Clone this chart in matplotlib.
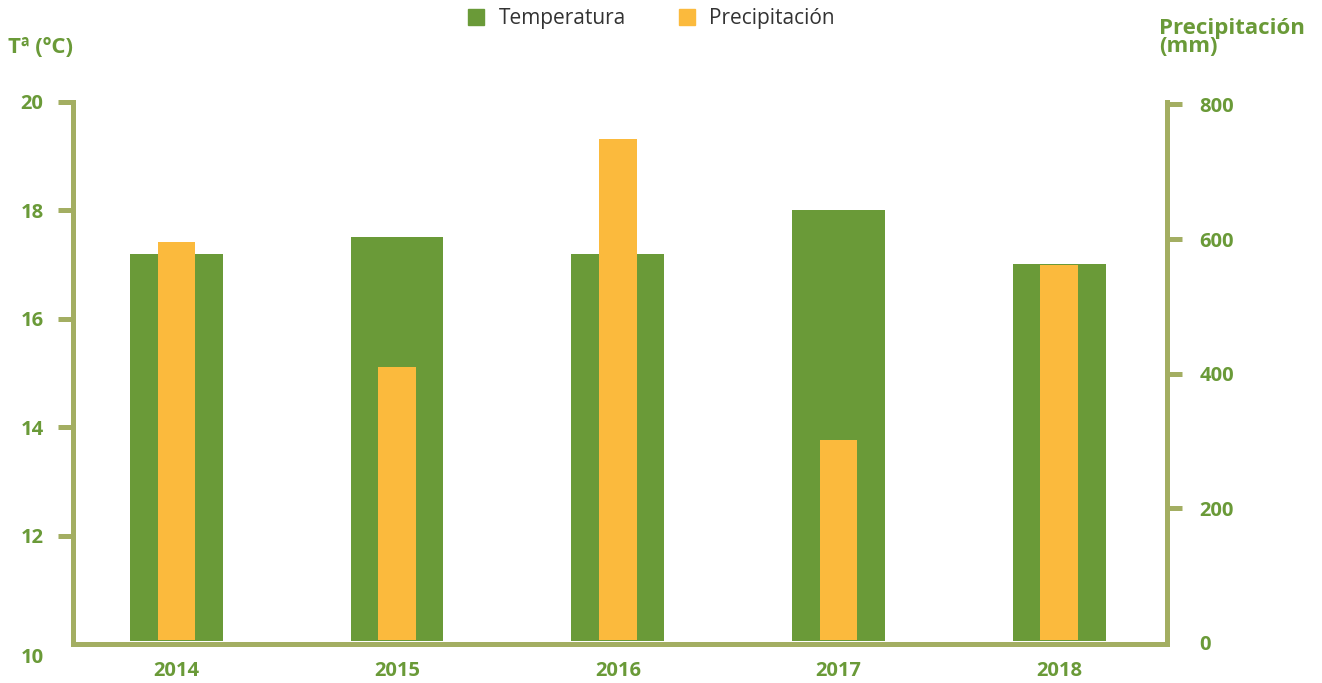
import matplotlib

matplotlib.use("Agg")
import matplotlib.pyplot as plt
import matplotlib.transforms as mtransforms
from matplotlib.lines import Line2D

years = ["2014", "2015", "2016", "2017", "2018"]
temperatura = [17.2, 17.5, 17.2, 18.0, 17.0]
precipitacion = [595, 410, 748, 302, 561]

temp_ticks = [10, 12, 14, 16, 18, 20]
prec_ticks = [0, 200, 400, 600, 800]

GREEN = "#6a9a38"
ORANGE = "#fbba3d"
SPINE = "#a3ae62"

plt.rcParams["font.family"] = ["Open Sans", "DejaVu Sans"]

fig = plt.figure(figsize=(13.22, 6.83), dpi=100)
ax = fig.add_axes([0.055, 0.0571, 0.828, 0.794])
ax2 = ax.twinx()

# bars start just above the bottom spine
t0, p0 = 10.06, 5
x = list(range(len(years)))
ax.bar(x, [t - t0 for t in temperatura], bottom=t0, width=0.42, color=GREEN, zorder=2)
ax2.bar(x, [p - p0 for p in precipitacion], bottom=p0, width=0.17, color=ORANGE, zorder=3)

ax.set_xlim(-0.47, 4.49)
ax.set_ylim(10, 20)
ax2.set_ylim(-1.5, 804)

ax.set_xticks(x)
ax.set_xticklabels(years)
ax.set_yticks(temp_ticks)
ax2.set_yticks(prec_ticks)

for a in (ax, ax2):
    a.spines["top"].set_visible(False)
    for side in ("left", "right", "bottom"):
        a.spines[side].set_color(SPINE)
        a.spines[side].set_linewidth(3.6)
ax.spines["right"].set_visible(False)
ax2.spines["left"].set_visible(False)
ax2.spines["bottom"].set_visible(False)

ax.tick_params(axis="x", length=0, pad=12, labelsize=14.5, labelcolor=GREEN)
ax.tick_params(axis="y", length=11, width=3.6, color=SPINE, pad=10,
               labelsize=14.5, labelcolor=GREEN)
ax2.tick_params(axis="y", length=11, width=3.6, color=SPINE, pad=12,
                labelsize=14.5, labelcolor=GREEN)
for lbl in ax.get_xticklabels() + ax.get_yticklabels() + ax2.get_yticklabels():
    lbl.set_fontweight("bold")

# no tick marks at the bottom corner, "10" label sits a bit lower
ax.yaxis.get_major_ticks()[0].tick1line.set_visible(False)
ax2.yaxis.get_major_ticks()[0].tick2line.set_visible(False)
ax.get_yticklabels()[0].set_transform(
    ax.get_yticklabels()[0].get_transform()
    + mtransforms.ScaledTranslation(0, -0.11, fig.dpi_scale_trans))

fig.text(0.006, 0.93, "Tª (ºC)", color=GREEN, fontsize=16, fontweight="bold",
         ha="left", va="center")
fig.text(0.877, 0.945, "Precipitación\n(mm)", color=GREEN, fontsize=16,
         fontweight="bold", ha="left", va="center", linespacing=0.8)

handles = [
    Line2D([], [], marker="s", linestyle="none", markersize=11,
           markerfacecolor=GREEN, markeredgecolor=GREEN),
    Line2D([], [], marker="s", linestyle="none", markersize=11,
           markerfacecolor=ORANGE, markeredgecolor=ORANGE),
]
fig.legend(handles, ["Temperatura", "Precipitación"], loc="center",
           bbox_to_anchor=(0.488, 0.973), ncol=2, frameon=False,
           fontsize=15, labelcolor="#333333", handletextpad=0.1,
           columnspacing=1.9)

fig.savefig("out.png", dpi=100)
